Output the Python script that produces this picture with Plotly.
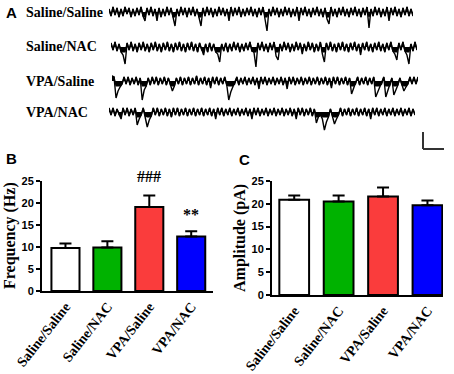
import plotly.graph_objects as go

W, H = 454, 374


def px(x):
    return x / W


def py(y):
    return 1 - y / H


# ---------------- data ----------------
categories = ["Saline/Saline", "Saline/NAC", "VPA/Saline", "VPA/NAC"]
freq_mean = [9.8, 9.9, 19.1, 12.4]
freq_sem = [1.0, 1.4, 2.6, 1.2]
amp_mean = [20.9, 20.5, 21.6, 19.7]
amp_sem = [0.9, 1.3, 2.0, 1.0]
freq_marks = ["", "", "###", "**"]
bar_colors = ["#ffffff", "#00b200", "#fa3c3c", "#0000ff"]
y_ticks = [0, 5, 10, 15, 20, 25]

trace_names = ["Saline/Saline", "Saline/NAC", "VPA/Saline", "VPA/NAC"]

trace_saline_saline = [
    3, -4, 5, -3, 4, -5, 3, -4, 5, -2, 4, -5, 3, -4, 4, -3, 5,
    -4, -9, 4, -3, 5, -4, 3, -9, 4, -5, 3, -4, 5, -3, 4, -5, -14,
    3, -4, 5, -3, 4, -5, 4, -3, 5, -4, 3, -7, -14, 4, -4, 5, -3,
    4, -5, 3, -4, 5, -3, 4, -4, 3, -9, 5, -4, 4, -3, 5, -5, 3,
    -4, 4, -3, 5, -4, 3, -5, 4, -3, 5, -8, -19, 3, -4, 5, -3, 4,
    -5, 3, -4, 5, -3, 4, -5, 3, -4, 5, -9, 4, -3, 5, -4, 3, -5,
    4, -3, 5, -4, 3, -5, 4, -7, -12, 5, -4, 3, -5, 4, -3, 5, -4,
    3, -5, 4, -3, 5, -4, 3, -5, 4, -3, 5, -16, 3, -4, 5, -3, 4,
    -5, 3, -4, 5, -9, 4, -3, 5, -4, 3, -5, 4, -3, 5, -4, 3, -4,
]
trace_saline_nac = [
    4, -3, 5, -4, 3, -5, -8, -17, 4, -3, 5, -4, 3, -5, 4, -3, 5,
    -4, 3, -5, 4, -3, 5, -4, 3, -5, 4, -3, 5, -4, 3, -5, 4, -3,
    5, -4, 3, -5, 4, -3, 5, -4, 3, -5, 4, -3, -8, 3, -5, 4, -4,
    3, -5, -7, -15, 3, -4, 4, -5, 3, -4, 5, -3, 4, -5, 3, -4, 4,
    -3, 5, -4, -5, -20, 4, -3, 5, -4, 3, -5, 4, -3, 5, -9, -13, 3,
    -4, 5, -3, 4, -5, 3, -4, 5, -3, 4, -7, 3, -4, 5, -3, 4, -5,
    3, -4, 5, -7, -15, 4, -3, 5, -4, 3, -5, 4, -3, 5, -4, 3, -5,
    4, -3, 5, -4, 3, -8, 4, -3, 5, -4, 3, -5, 4, -3, 5, -4, 3,
    -5, 4, -3, 5, -4, -7, -13, 4, -3, 5, -4, -8, -17, 3, -4, 5, -3,
]
trace_vpa_saline = [
    5, 4, -17, -10, -6, -3, 4, -3, 4, -4, 3, -3, 4, -4, 3, -19, -9,
    -5, 3, -4, 4, -3, 4, -4, 3, -3, 4, -4, 3, -4, -10, -5, 3, -3,
    4, -4, 3, -3, 4, -4, 3, -3, 5, -4, 3, -3, 4, -4, 3, -7, 4,
    -3, 4, -4, 3, -3, 4, -4, -19, -11, -6, -3, 4, -4, 3, -3, 4, -4,
    3, -3, 4, -4, 3, -8, 4, -3, 4, -4, 3, -3, 4, -4, 3, -3, 4,
    -4, 3, -8, 4, -3, 4, -4, 3, -3, 4, -4, 3, -3, 4, -4, 3, -3,
    4, -4, 3, -3, 4, -4, 3, -7, 4, -3, 4, -4, 3, -3, 4, -4, 3,
    -13, -7, -3, 4, -4, 3, -3, 4, -4, 3, -3, 4, -16, -11, -6, -3, 4,
    -16, -10, -5, 3, -14, -9, -4, 3, -4, -10, -6, -3, 4, -3, 4, -3, 4,
]
trace_vpa_nac = [
    4, -3, 4, -4, 3, -3, -7, 4, -3, 4, -4, 3, -3, 4, -13, -7, -3,
    4, -4, -15, -8, -4, 4, -3, 4, -4, 3, -3, 4, -4, 3, -5, 4, -3,
    4, -4, 3, -3, 4, -4, 3, -3, 4, -4, 3, -3, 4, -4, 3, -3, 4,
    -4, 3, -7, 4, -3, 4, -4, 3, -3, 4, -4, 3, -3, 4, -4, 3, -3,
    4, -4, 3, -7, 4, -3, 4, -4, 3, -3, 4, -4, 3, -3, 4, -4, 3,
    -3, 4, -4, 3, -3, 4, -4, 3, -7, 4, -3, 4, -4, 3, -3, 4, -4,
    3, -11, -5, -3, -7, -18, -10, -5, 3, -4, -12, -7, -3, 4, -4, 3, -3,
    4, -4, 3, -3, 4, -4, 3, -3, 4, -4, 3, -7, 4, -3, 4, -4, 3,
    -3, 4, -4, 3, -3, 4, -4, 3, -3, 4, -4, 3, -3, 4, -4, 3, -3,
]
traces = [trace_saline_saline, trace_saline_nac, trace_vpa_saline, trace_vpa_nac]

# ---------------- layout geometry (pixels) ----------------
trace_x_px = [(109, 413), (111, 417), (112, 418), (109, 415)]
trace_center_px = [12, 47, 81, 112]
T_LO, T_HI = -22, 8  # 1 unit = 1 px
NOISE_CLIP = 5       # the dense noise band is shaded up to this level

SERIF = "Liberation Serif"
SANS = "Liberation Sans"

fig = go.Figure()
layout = dict(
    template="none",
    width=W, height=H, autosize=False,
    margin=dict(l=0, r=0, t=0, b=0, pad=0, autoexpand=False),
    paper_bgcolor="white", plot_bgcolor="white",
    showlegend=False,
)
annotations = []
shapes = []

for i, (vals, name) in enumerate(zip(traces, trace_names)):
    k = i + 1
    xa = "x" if k == 1 else f"x{k}"
    ya = "y" if k == 1 else f"y{k}"
    xs = list(range(len(vals)))
    band = [max(-NOISE_CLIP, min(NOISE_CLIP, v)) for v in vals]
    # dense noise band (shaded)
    fig.add_trace(go.Scatter(
        x=xs, y=band, mode="lines",
        line=dict(color="black", width=1.2),
        fill="tozeroy", fillcolor="black",
        xaxis=xa, yaxis=ya, hoverinfo="skip",
    ))
    # full trace (events as thin downward deflections)
    fig.add_trace(go.Scatter(
        x=xs, y=vals, mode="lines",
        line=dict(color="black", width=1.4),
        xaxis=xa, yaxis=ya, hoverinfo="skip",
    ))
    x0, x1 = trace_x_px[i]
    c = trace_center_px[i]
    layout["xaxis" if k == 1 else f"xaxis{k}"] = dict(
        domain=[px(x0), px(x1)], range=[0, len(vals) - 1],
        visible=False, anchor=ya, fixedrange=True, automargin=False)
    layout["yaxis" if k == 1 else f"yaxis{k}"] = dict(
        domain=[py(c - T_LO), py(c - T_HI)], range=[T_LO, T_HI],
        visible=False, anchor=xa, fixedrange=True, automargin=False)
    annotations.append(dict(
        text=name, xref="paper", x=px(24), xanchor="left",
        yref=ya, y=0, yanchor="middle", showarrow=False,
        font=dict(family=SERIF, size=14, color="black", weight="bold")))

# scale bar
shapes.append(dict(type="line", xref="paper", yref="paper",
                   x0=px(423), x1=px(423), y0=py(132), y1=py(149),
                   line=dict(color="#333333", width=2)))
shapes.append(dict(type="line", xref="paper", yref="paper",
                   x0=px(423), x1=px(444), y0=py(149), y1=py(149),
                   line=dict(color="#333333", width=2)))

# ---------------- bar panels ----------------
panels = [
    dict(k=5, mean=freq_mean, sem=freq_sem, xdom=(42, 213), ydom=(181, 291),
         xr=[-0.56, 3.52], title="Frequency (Hz)", tx=10),
    dict(k=6, mean=amp_mean, sem=amp_sem, xdom=(272, 443), ydom=(181, 295),
         xr=[-0.5, 3.35], title="Amplitude (pA)", tx=240),
]
for p in panels:
    k = p["k"]
    xa, ya = f"x{k}", f"y{k}"
    fig.add_trace(go.Bar(
        x=categories, y=p["mean"], width=0.67,
        marker=dict(color=bar_colors, line=dict(color="black", width=2)),
        error_y=dict(type="data", symmetric=False, array=p["sem"],
                     arrayminus=[0] * len(p["sem"]), color="black",
                     thickness=2, width=6),
        xaxis=xa, yaxis=ya, hoverinfo="skip",
    ))
    layout[f"xaxis{k}"] = dict(
        domain=[px(p["xdom"][0]), px(p["xdom"][1])], anchor=ya,
        type="category", range=p["xr"], showline=True, linewidth=2,
        linecolor="black", ticks="", showgrid=False, zeroline=False,
        tickangle=-52, automargin=False,
        tickfont=dict(family=SERIF, size=14, color="black", weight="bold"),
        fixedrange=True)
    layout[f"yaxis{k}"] = dict(
        domain=[py(p["ydom"][1]), py(p["ydom"][0])], anchor=xa,
        range=[0, 25], tickvals=y_ticks, showline=True, linewidth=2,
        linecolor="black", ticks="outside", ticklen=4, tickwidth=2,
        tickcolor="black", showgrid=False, zeroline=False, automargin=False,
        tickfont=dict(family=SANS, size=11, color="black", weight="bold"),
        fixedrange=True)
    annotations.append(dict(
        text=p["title"], textangle=-90, xref="paper", x=px(p["tx"]),
        xanchor="center", yref="paper",
        y=py((p["ydom"][0] + p["ydom"][1]) / 2), yanchor="middle",
        showarrow=False,
        font=dict(family=SERIF, size=16, color="black", weight="bold")))

# significance marks on the frequency panel
for cat, m, s, mark in zip(categories, freq_mean, freq_sem, freq_marks):
    if mark:
        annotations.append(dict(
            text=mark, xref="x5", yref="y5", x=cat, y=m + s,
            yanchor="bottom", yshift=9 if mark == "###" else 6,
            showarrow=False,
            font=dict(family=SERIF, size=16, color="black", weight="bold")))

# panel letters
for letter, lx, ly in [("A", 4, 12), ("B", 4, 158), ("C", 237, 160)]:
    annotations.append(dict(
        text=letter, xref="paper", yref="paper", x=px(lx), y=py(ly),
        xanchor="left", yanchor="middle", showarrow=False,
        font=dict(family=SANS, size=15, color="black", weight="bold")))

layout["annotations"] = annotations
layout["shapes"] = shapes
fig.update_layout(**layout)
fig.write_html(
    "out.html",
    config={"displayModeBar": False, "staticPlot": True},
    post_script="document.body.style.margin='0px';"
                "document.body.style.padding='0px';"
                "document.body.style.overflow='hidden';",
)
